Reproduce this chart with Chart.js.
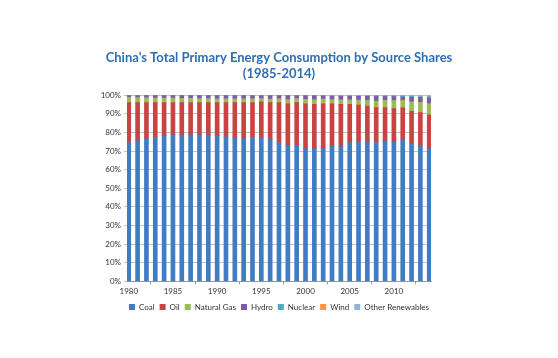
<!DOCTYPE html>
<html>
<head>
<meta charset="utf-8">
<script src="https://cdn.jsdelivr.net/npm/chart.js@4/dist/chart.umd.min.js"></script>
<style>
html,body{margin:0;padding:0;background:#fff;}
#wrap{width:558px;height:358px;position:relative;}
</style>
</head>
<body>
<div id="wrap"><canvas id="c" width="558" height="358"></canvas></div>
<script>
const years = [1980,1981,1982,1983,1984,1985,1986,1987,1988,1989,1990,1991,1992,1993,1994,1995,1996,1997,1998,1999,2000,2001,2002,2003,2004,2005,2006,2007,2008,2009,2010,2011,2012,2013,2014];
const xTickYears = [1980,1985,1990,1995,2000,2005,2010];
const coal = [74.6,75.6,76.7,77.3,78.4,78.7,78.7,78.7,78.7,78.4,78.4,77.7,77.1,76.7,77.3,77.3,76.4,74.6,73.1,73.1,71.3,71.3,71.3,72.6,72.6,74.6,74.9,74.9,74.6,75.3,74.9,75.8,73.5,72.6,71.3];
const oil = [21.4,20.4,19.3,18.7,17.6,17.4,17.3,17.3,17.3,17.6,17.6,18.3,18.9,19.3,18.8,19.1,19.6,21.4,22.3,22.9,24.1,23.8,24.1,22.7,22.5,20.5,19.8,19.3,18.8,18.1,17.9,17.4,17.8,18.0,18.1];
const naturalGas = [2.8,2.7,2.6,2.5,2.4,2.3,2.3,2.3,2.2,2.2,2.1,2.1,2.0,2.0,1.9,1.8,1.9,2.0,2.2,2.2,2.4,2.5,2.5,2.3,2.4,2.4,2.7,3.1,3.5,3.8,4.3,4.0,5.2,5.6,6.1];
const hydro = [1.2,1.3,1.4,1.5,1.6,1.6,1.7,1.7,1.8,1.8,1.9,1.9,2.0,2.0,1.8,1.6,1.9,1.8,2.2,1.6,2.0,2.2,1.7,1.8,1.9,1.9,2.0,2.1,2.3,2.0,2.1,1.8,2.4,2.5,3.0];
const nuclear = [0,0,0,0,0,0,0,0,0,0,0,0,0,0,0.2,0.2,0.2,0.2,0.2,0.2,0.2,0.4,0.5,0.6,0.6,0.6,0.6,0.6,0.6,0.6,0.6,0.6,0.6,0.6,0.7];
const wind = [0,0,0,0,0,0,0,0,0,0,0,0,0,0,0,0,0,0,0,0,0,0,0,0,0,0,0,0,0.1,0.2,0.2,0.3,0.4,0.5,0.6];
const otherRenewables = [0,0,0,0,0,0,0,0,0,0,0,0,0,0,0,0,0,0,0,0,0,0,0,0,0,0,0,0,0.1,0,0,0.1,0.1,0.2,0.2];
const yTicks = [0,10,20,30,40,50,60,70,80,90,100];

const seriesNames = ['Coal','Oil','Natural Gas','Hydro','Nuclear','Wind','Other Renewables'];
const seriesValues = [coal, oil, naturalGas, hydro, nuclear, wind, otherRenewables];
const seriesColors = ['#3F7CC4','#C94342','#9BBB59','#7D5BA6','#4BACC6','#F79646','#95B3D7'];

const datasets = seriesNames.map((name, k) => ({
  label: name,
  data: seriesValues[k].map((v, i) => ({x: years[i], y: v})),
  backgroundColor: seriesColors[k],
  borderWidth: 0,
  barThickness: 4
}));

const fontFam = "Lato, 'Open Sans', sans-serif";

new Chart(document.getElementById('c'), {
  type: 'bar',
  data: { datasets },
  options: {
    responsive: false,
    animation: false,
    layout: { padding: { left: 0, right: 0, top: 0, bottom: 37 } },
    plugins: {
      title: {
        display: true,
        text: ["China's Total Primary Energy Consumption by Source Shares", "(1985-2014)"],
        color: '#2F6EB3',
        font: { family: fontFam, size: 13, weight: 'bold', lineHeight: 1.2 },
        padding: { top: 50, bottom: 14 }
      },
      legend: {
        position: 'bottom',
        labels: {
          boxWidth: 6, boxHeight: 6, padding: 5,
          color: '#333',
          font: { family: fontFam, size: 8 }
        }
      },
      tooltip: { enabled: false }
    },
    scales: {
      x: {
        type: 'linear',
        stacked: true,
        offset: false,
        min: 1979.8,
        max: 2014.2,
        afterBuildTicks: (axis) => { axis.ticks = xTickYears.map(v => ({value: v})); },
        ticks: { color: '#333', font: { family: fontFam, size: 8 }, padding: 2, maxRotation: 0, callback: (v) => String(v) },
        grid: { drawOnChartArea: false, drawTicks: true, tickLength: 3, color: '#999' },
        border: { color: '#999' }
      },
      y: {
        stacked: true,
        min: 0, max: 100,
        afterBuildTicks: (axis) => { axis.ticks = yTicks.map(v => ({value: v})); },
        afterFit: (scale) => { scale.width = 127; },
        ticks: { color: '#333', font: { family: fontFam, size: 8 }, padding: 3, callback: (v) => v + '%' },
        grid: { color: '#C4C4C4', lineWidth: 1, tickLength: 3 },
        border: { color: '#999' }
      },
      yRight: {
        position: 'right',
        display: true,
        min: 0, max: 100,
        afterFit: (scale) => { scale.width = 127; },
        ticks: { display: false },
        grid: { display: false, drawTicks: false },
        border: { display: false }
      }
    }
  }
});
</script>
</body>
</html>
